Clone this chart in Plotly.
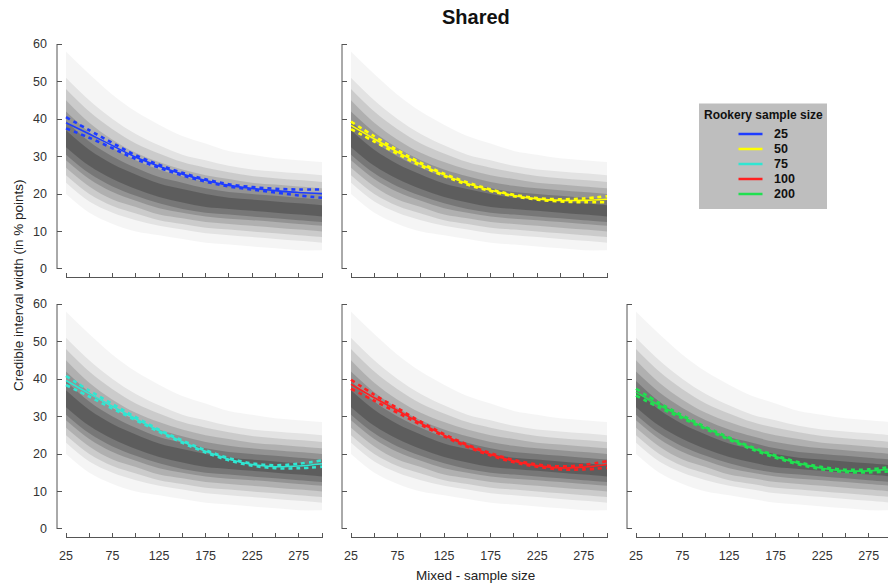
import plotly.graph_objects as go

W, H = 888, 586

# ---------------- data ----------------
X_FIT = [25, 50, 75, 100, 125, 150, 175, 200, 225, 250, 275, 300]

BLUE_MEAN = [39.0, 36.0, 32.9, 29.8, 27.4, 25.3, 23.6, 22.3, 21.5, 20.9, 20.4, 20.1]
BLUE_LO = [37.5, 35.0, 32.2, 29.3, 27.0, 24.95, 23.3, 22.0, 21.15, 20.4, 19.6, 19.0]
BLUE_HI = [40.5, 37.0, 33.6, 30.3, 27.8, 25.65, 23.9, 22.6, 21.85, 21.4, 21.2, 21.2]

YELLOW_MEAN = [38.3, 34.7, 31.2, 27.9, 25.1, 22.8, 21.0, 19.6, 18.7, 18.3, 18.3, 18.6]
YELLOW_LO = [37.3, 34.0, 30.7, 27.5, 24.8, 22.5, 20.8, 19.4, 18.5, 18.0, 17.8, 17.8]
YELLOW_HI = [39.3, 35.4, 31.7, 28.3, 25.4, 23.1, 21.2, 19.8, 18.9, 18.6, 18.8, 19.4]

CYAN_MEAN = [39.6, 36.1, 32.7, 29.4, 26.2, 23.3, 20.7, 18.6, 17.2, 16.6, 16.8, 17.4]
CYAN_LO = [38.4, 35.3, 32.1, 29.0, 25.9, 23.0, 20.4, 18.3, 16.9, 16.2, 16.2, 16.6]
CYAN_HI = [40.8, 36.9, 33.3, 29.8, 26.5, 23.6, 21.0, 18.9, 17.5, 17.0, 17.4, 18.3]

RED_MEAN = [38.6, 35.0, 31.6, 28.2, 25.0, 22.2, 19.9, 18.1, 16.9, 16.3, 16.5, 17.2]
RED_LO = [37.4, 34.2, 31.0, 27.8, 24.7, 21.9, 19.6, 17.8, 16.6, 15.9, 15.9, 16.3]
RED_HI = [39.8, 35.8, 32.2, 28.6, 25.3, 22.5, 20.2, 18.4, 17.2, 16.7, 17.1, 18.1]

GREEN_MEAN = [36.5, 33.0, 29.9, 26.9, 24.1, 21.5, 19.3, 17.5, 16.2, 15.5, 15.5, 16.0]
GREEN_LO = [35.6, 32.4, 29.5, 26.6, 23.8, 21.2, 19.0, 17.2, 15.9, 15.2, 15.1, 15.4]
GREEN_HI = [37.4, 33.6, 30.3, 27.2, 24.4, 21.8, 19.6, 17.8, 16.5, 15.8, 15.9, 16.6]

# grey simulation cloud, summarised by quantiles at each mixed sample size
CLOUD_X = [25, 50, 75, 100, 125, 150, 175, 200, 225, 250, 275, 300]
Q005 = [20, 15, 12, 10, 9, 8, 7, 6.5, 6, 5.5, 5, 5]
Q025 = [23, 18, 15, 13, 11.5, 10.5, 9.5, 9, 8.5, 8, 7.5, 7]
Q050 = [25, 20, 16.8, 14.8, 13, 12, 11, 10.5, 10, 9.5, 9, 8.5]
Q100 = [27, 22, 18.5, 16.5, 14.5, 13.5, 12.5, 12, 11.5, 11, 10.5, 10]
Q175 = [29, 24, 20.5, 18.2, 16.2, 15, 14, 13.4, 13, 12.5, 12, 11.5]
Q250 = [30.5, 25.5, 22, 19.5, 17.5, 16, 15, 14.5, 14, 13.5, 13, 12.5]
Q350 = [32.5, 27.5, 24, 21.3, 19.2, 17.7, 16.5, 16, 15.5, 15, 14.5, 14]
Q650 = [37, 31.8, 28, 25.2, 22.8, 21.3, 20, 19, 18.5, 18, 17.5, 17]
Q750 = [39.5, 34, 30, 27, 24.5, 23, 21.5, 20.5, 20, 19.5, 19, 18.5]
Q825 = [42, 36.5, 32.3, 29, 26.5, 24.7, 23.2, 22.2, 21.5, 21, 20.5, 20]
Q900 = [45, 39, 34.5, 31, 28.5, 26.5, 25, 24, 23, 22.5, 22, 21.5]
Q950 = [48, 42, 37.3, 33.5, 30.8, 28.5, 27, 25.8, 24.8, 24.2, 23.7, 23.2]
Q975 = [51, 45, 40, 36, 33, 30.5, 29, 27.5, 26.5, 26, 25.5, 25]
Q995 = [58, 52, 46.5, 42, 38.5, 35.5, 33.5, 31.5, 30.5, 29.5, 29, 28.5]

SERIES_NAMES = ["25", "50", "75", "100", "200"]
COLORS = ["#1e3cff", "#ffff00", "#30e6d2", "#ff2020", "#20e050"]

X_TICKS = [25, 50, 75, 100, 125, 150, 175, 200, 225, 250, 275, 300]
X_TICK_TEXT = ["25", "", "75", "", "125", "", "175", "", "225", "", "275", ""]
Y_TICKS = [0, 10, 20, 30, 40, 50, 60]

# ---------------- layout geometry ----------------
FONT = "Liberation Sans, Arial, sans-serif"
COLS = [(57, 331), (342, 616), (627, 888)]
ROWS = [(35.5, 277.5), (295.5, 537.5)]
PX_PER_X = 274 / 294.34
X0 = 15.33
Y_RANGE = [-2.27, 62.27]

panels = [
    (0, 0, BLUE_MEAN, BLUE_LO, BLUE_HI),
    (0, 1, YELLOW_MEAN, YELLOW_LO, YELLOW_HI),
    (1, 0, CYAN_MEAN, CYAN_LO, CYAN_HI),
    (1, 1, RED_MEAN, RED_LO, RED_HI),
    (1, 2, GREEN_MEAN, GREEN_LO, GREEN_HI),
]

bands = [(Q005, Q995, 0.04), (Q025, Q975, 0.07), (Q050, Q950, 0.10), (Q100, Q900, 0.13),
         (Q175, Q825, 0.16), (Q250, Q750, 0.19), (Q350, Q650, 0.21)]

fig = go.Figure()
shapes = []
layout = {}

for i, (r, c, mean, lo, hi) in enumerate(panels):
    k = "" if i == 0 else str(i + 1)
    xa, ya = "x" + k, "y" + k
    # cloud
    for qlo, qhi, a in bands:
        fig.add_trace(go.Scatter(x=CLOUD_X, y=qlo, mode="lines", line=dict(width=0, shape="spline"),
                                 xaxis=xa, yaxis=ya, hoverinfo="skip", showlegend=False))
        fig.add_trace(go.Scatter(x=CLOUD_X, y=qhi, mode="lines", line=dict(width=0, shape="spline"),
                                 fill="tonexty", fillcolor=f"rgba(0,0,0,{a})",
                                 xaxis=xa, yaxis=ya, hoverinfo="skip", showlegend=False))
    col = COLORS[i]
    for band in (lo, hi):
        fig.add_trace(go.Scatter(x=X_FIT, y=band, mode="lines",
                                 line=dict(color=col, width=2.6, dash="4px,4px", shape="spline"),
                                 xaxis=xa, yaxis=ya, hoverinfo="skip", showlegend=False))
    fig.add_trace(go.Scatter(x=X_FIT, y=mean, mode="lines", name=SERIES_NAMES[i],
                             line=dict(color=col, width=1.6, shape="spline"),
                             xaxis=xa, yaxis=ya, showlegend=False))

    cx0, cx1 = COLS[c]
    ry0, ry1 = ROWS[r]
    xr = [X0, X0 + (cx1 - cx0) / PX_PER_X]
    axname_x = "xaxis" + k
    axname_y = "yaxis" + k
    layout[axname_x] = dict(
        domain=[cx0 / W, cx1 / W], range=xr, anchor=ya,
        showgrid=False, zeroline=False, showline=False,
        ticks="inside", ticklen=5, tickwidth=1, tickcolor="#555555",
        tickvals=X_TICKS, ticktext=X_TICK_TEXT,
        showticklabels=(r == 1), ticklabelstandoff=9,
        tickfont=dict(family=FONT, size=12.5, color="#333333"),
    )
    layout[axname_y] = dict(
        domain=[1 - ry1 / H, 1 - ry0 / H], range=Y_RANGE, anchor=xa,
        showgrid=False, zeroline=False, showline=False,
        ticks="inside", ticklen=5, tickwidth=1, tickcolor="#555555",
        tickvals=Y_TICKS, showticklabels=(c == 0), ticklabelstandoff=9,
        tickfont=dict(family=FONT, size=12.5, color="#333333"),
    )
    # detached R-style axis lines
    shapes.append(dict(type="line", xref=xa, yref=ya + " domain", x0=X_TICKS[0], x1=X_TICKS[-1],
                       y0=0, y1=0, line=dict(color="#555555", width=1)))
    shapes.append(dict(type="line", xref=xa + " domain", yref=ya, x0=0, x1=0,
                       y0=Y_TICKS[0], y1=Y_TICKS[-1], line=dict(color="#555555", width=1)))

# ---------------- legend (drawn by hand, in the empty top-right slot) ----------------
LX0, LX1, LY0, LY1 = 699, 827, 103.5, 209
shapes.append(dict(type="rect", xref="paper", yref="paper", x0=LX0 / W, x1=LX1 / W,
                   y0=1 - LY1 / H, y1=1 - LY0 / H, fillcolor="#bebebe", line=dict(width=0),
                   layer="below"))
annotations = [
    dict(text="<b>Rookery sample size</b>", x=763.5 / W, y=1 - 115 / H, xref="paper", yref="paper",
         showarrow=False, xanchor="center", yanchor="middle",
         font=dict(family=FONT, size=12, color="#111111")),
]
for j, (name, col) in enumerate(zip(SERIES_NAMES, COLORS)):
    yy = 134 + 15 * j
    shapes.append(dict(type="line", xref="paper", yref="paper", x0=738.5 / W, x1=762.5 / W,
                       y0=1 - yy / H, y1=1 - yy / H, line=dict(color=col, width=2.5)))
    annotations.append(dict(text=f"<b>{name}</b>", x=772 / W, y=1 - yy / H, xref="paper", yref="paper",
                            showarrow=False, xanchor="left", yanchor="middle",
                            font=dict(family=FONT, size=12.5, color="#111111")))

# titles
annotations.append(dict(text="<b>Shared</b>", x=475.5 / W, y=1 - 17 / H, xref="paper", yref="paper",
                        showarrow=False, xanchor="center", yanchor="middle",
                        font=dict(family=FONT, size=20, color="#111111")))
annotations.append(dict(text="Mixed - sample size", x=476 / W, y=1 - 575 / H, xref="paper", yref="paper",
                        showarrow=False, xanchor="center", yanchor="middle",
                        font=dict(family=FONT, size=13.5, color="#222222")))
annotations.append(dict(text="Credible interval width (in % points)", x=18 / W, y=1 - 285 / H,
                        xref="paper", yref="paper", textangle=-90,
                        showarrow=False, xanchor="center", yanchor="middle",
                        font=dict(family=FONT, size=13.5, color="#222222")))

fig.update_layout(
    width=W, height=H, margin=dict(l=0, r=0, t=0, b=0),
    paper_bgcolor="white", plot_bgcolor="white",
    showlegend=False, shapes=shapes, annotations=annotations,
    **layout,
)

fig.write_html("out.html")
